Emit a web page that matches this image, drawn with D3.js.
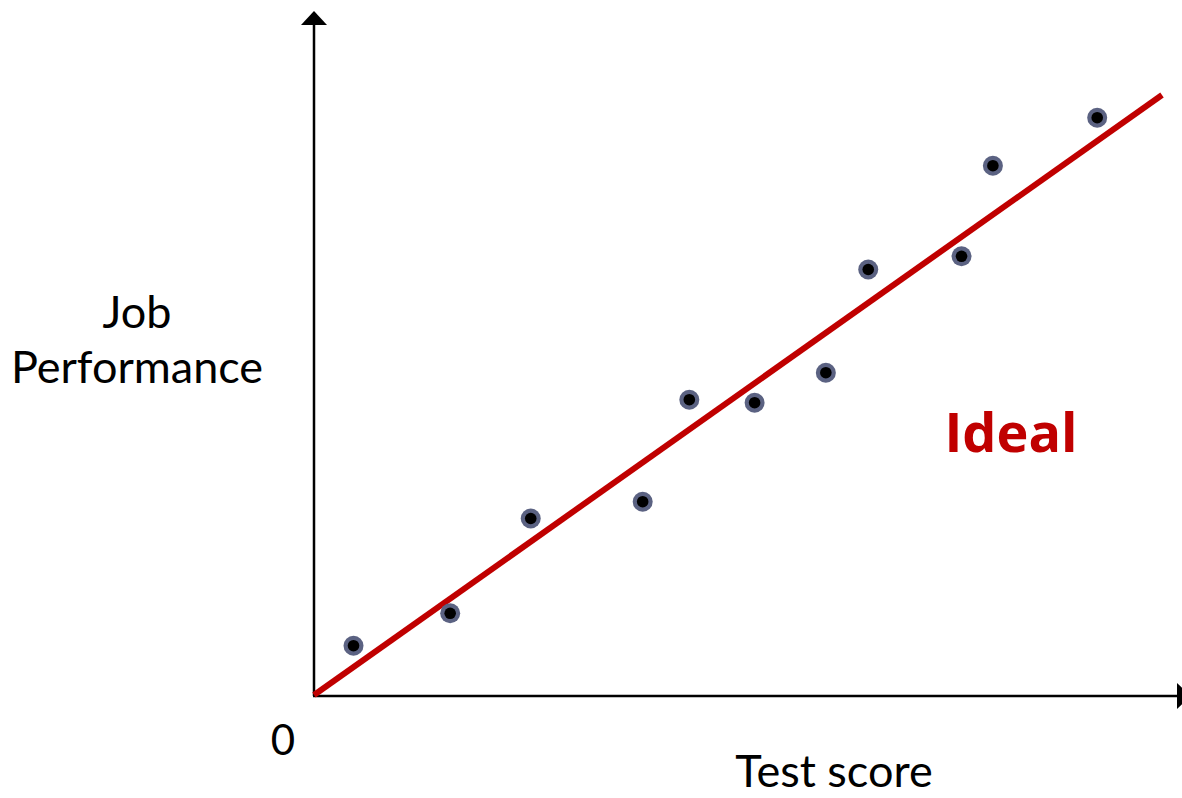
<!DOCTYPE html>
<html>
<head>
<meta charset="utf-8">
<script src="https://cdn.jsdelivr.net/npm/d3@7"></script>
<style>
html,body{margin:0;padding:0;background:#fff;}
svg{display:block;}
</style>
</head>
<body>
<svg id="chart" width="1182" height="798"></svg>
<script>
// Data (arbitrary units, 0-100)
const testScores = [4.6, 16.0, 25.5, 38.7, 44.2, 51.9, 60.3, 65.3, 76.3, 80.0, 92.3];
const jobPerformance = [8.3, 13.7, 29.5, 32.3, 49.3, 48.8, 53.8, 71.0, 73.2, 88.3, 96.3];
const idealLine = [[0, 0], [100, 100]];
const yLabelLines = ["Job", "Performance"];
const xLabel = "Test score";
const originLabel = "0";
const lineLabel = "Ideal";

const svg = d3.select("#chart");
const x = d3.scaleLinear().domain([0, 100]).range([314, 1162]);
const y = d3.scaleLinear().domain([0, 100]).range([695, 95]);

const humanist = "Lato, 'Open Sans', sans-serif";

// axes
svg.append("line").attr("x1", x(0)).attr("x2", x(0)).attr("y1", y(0) + 1).attr("y2", 22)
  .attr("stroke", "#000").attr("stroke-width", 2.5);
svg.append("path").attr("d", `M${x(0)-13},${25} L${x(0)},${11} L${x(0)+13},${25} Z`).attr("fill", "#000");

svg.append("line").attr("x1", x(0) - 1).attr("x2", 1178).attr("y1", y(0) + 1).attr("y2", y(0) + 1)
  .attr("stroke", "#000").attr("stroke-width", 2.5);
svg.append("path").attr("d", `M${1177},${y(0)+1-13} L${1191},${y(0)+1} L${1177},${y(0)+1+13} Z`).attr("fill", "#000");

// ideal line
svg.append("path")
  .attr("d", d3.line().x(d => x(d[0])).y(d => y(d[1]))(idealLine))
  .attr("stroke", "#c00000").attr("stroke-width", 6).attr("fill", "none");

// points
const pts = testScores.map((t, i) => [t, jobPerformance[i]]);
const g = svg.append("g");
g.selectAll("circle.outer").data(pts).join("circle")
  .attr("class", "outer").attr("cx", d => x(d[0]) + 0.5).attr("cy", d => y(d[1]) + 0.5)
  .attr("r", 10).attr("fill", "#5b6282");
g.selectAll("circle.inner").data(pts).join("circle")
  .attr("class", "inner").attr("cx", d => x(d[0]) + 0.5).attr("cy", d => y(d[1]) + 0.5)
  .attr("r", 5.8).attr("fill", "#000");

// labels
svg.append("text").attr("x", 137).attr("y", 328).attr("text-anchor", "middle")
  .attr("font-family", humanist).attr("font-size", 45).attr("fill", "#000").text(yLabelLines[0]);
svg.append("text").attr("x", 137).attr("y", 383).attr("text-anchor", "middle")
  .attr("font-family", humanist).attr("font-size", 45).attr("fill", "#000").text(yLabelLines[1]);
svg.append("text").attr("x", 283).attr("y", 755).attr("text-anchor", "middle")
  .attr("font-family", humanist).attr("font-size", 42).attr("fill", "#000").text(originLabel);
svg.append("text").attr("x", 834).attr("y", 787).attr("text-anchor", "middle")
  .attr("font-family", humanist).attr("font-size", 45).attr("fill", "#000").text(xLabel);
svg.append("text").attr("x", 1011).attr("y", 452).attr("text-anchor", "middle")
  .attr("font-family", "'Open Sans', sans-serif").attr("font-weight", "bold")
  .attr("font-size", 54).attr("fill", "#c00000").text(lineLabel);
</script>
</body>
</html>
